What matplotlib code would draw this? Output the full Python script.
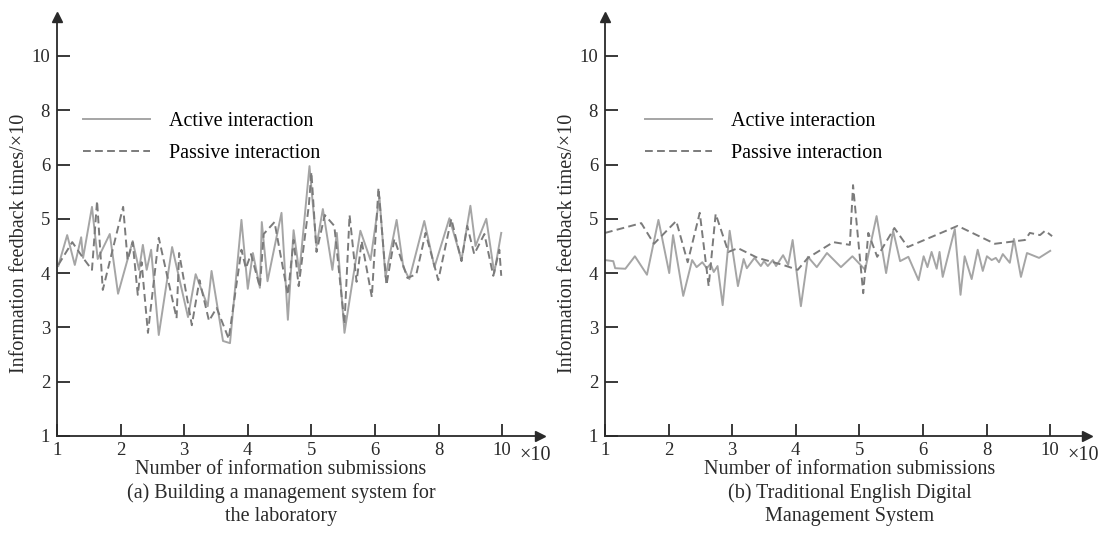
import numpy as np
import matplotlib
matplotlib.use('Agg')
import matplotlib.pyplot as plt

# ---------------------------------------------------------------
# data (x: submissions /10, y: feedback times /10)
tick_vals = [1, 2, 3, 4, 5, 6, 8, 10]
tick_labels = ['1', '2', '3', '4', '5', '6', '8', '10']

# (a) laboratory management system
a_active_x = [1.02, 1.16, 1.28, 1.38, 1.41, 1.55, 1.64, 1.83, 1.96, 2.19, 2.29, 2.35, 2.41, 2.48,
              2.60, 2.81, 3.06, 3.18, 3.37, 3.43, 3.61, 3.72, 3.90, 4.00, 4.08, 4.19, 4.22, 4.31,
              4.53, 4.63, 4.72, 4.81, 4.97, 5.08, 5.18, 5.33, 5.40, 5.52, 5.77, 5.93, 6.14, 6.33,
              6.68, 6.89, 7.08, 7.55, 7.87, 8.34, 8.72, 9.00, 9.16, 9.50, 9.75, 9.97]
a_active_y = [4.13, 4.70, 4.15, 4.66, 4.28, 5.22, 4.26, 4.72, 3.62, 4.59, 4.06, 4.52, 4.06, 4.43,
              2.86, 4.48, 3.19, 3.98, 3.39, 4.04, 2.75, 2.71, 4.98, 3.71, 4.37, 3.73, 4.94, 3.85,
              5.11, 3.14, 4.79, 4.00, 5.97, 4.50, 5.18, 4.06, 4.74, 2.90, 4.78, 4.24, 5.40, 3.93,
              4.98, 4.11, 3.89, 4.96, 4.11, 5.01, 4.24, 5.24, 4.50, 5.00, 4.00, 4.74]
a_passive_x = [1.02, 1.24, 1.41, 1.55, 1.63, 1.72, 2.04, 2.11, 2.19, 2.27, 2.33, 2.43, 2.60, 2.88,
               2.92, 3.12, 3.24, 3.39, 3.51, 3.70, 3.90, 3.97, 4.05, 4.19, 4.25, 4.42, 4.63, 4.72,
               4.80, 4.96, 5.00, 5.08, 5.21, 5.36, 5.52, 5.60, 5.71, 5.79, 5.95, 6.11, 6.36, 6.61,
               7.02, 7.30, 7.59, 7.99, 8.40, 8.72, 8.90, 9.12, 9.44, 9.72, 9.91, 9.97]
a_passive_y = [4.15, 4.57, 4.28, 4.06, 5.33, 3.69, 5.22, 4.24, 4.57, 3.60, 4.20, 2.90, 4.65, 3.17,
               4.37, 3.04, 3.87, 3.12, 3.36, 2.79, 4.43, 4.09, 4.35, 3.74, 4.72, 4.94, 3.60, 4.61,
               3.76, 5.25, 5.86, 4.39, 5.07, 4.87, 3.06, 5.07, 3.84, 4.59, 3.56, 5.57, 3.78, 4.63,
               3.91, 3.98, 4.74, 3.87, 5.00, 4.22, 4.87, 4.35, 4.72, 3.95, 4.43, 3.95]

# (b) traditional English digital management system
b_active_x = [1.00, 1.13, 1.16, 1.32, 1.47, 1.66, 1.84, 2.01, 2.07, 2.23, 2.37, 2.44, 2.53, 2.60,
              2.66, 2.71, 2.77, 2.85, 2.96, 3.09, 3.18, 3.23, 3.35, 3.45, 3.50, 3.56, 3.64, 3.69,
              3.80, 3.88, 3.95, 4.08, 4.19, 4.33, 4.49, 4.71, 4.89, 5.09, 5.27, 5.42, 5.53, 5.64,
              5.77, 5.93, 6.02, 6.14, 6.27, 6.43, 6.52, 6.62, 7.00, 7.18, 7.31, 7.53, 7.72, 7.88,
              8.01, 8.16, 8.29, 8.39, 8.51, 8.73, 8.86, 9.08, 9.27, 9.65, 10.00]
b_active_y = [4.24, 4.22, 4.09, 4.08, 4.31, 3.97, 4.98, 4.00, 4.70, 3.58, 4.24, 4.11, 4.20, 4.09,
              4.17, 4.02, 4.13, 3.41, 4.78, 3.76, 4.26, 4.09, 4.28, 4.13, 4.22, 4.13, 4.24, 4.13,
              4.33, 4.15, 4.61, 3.39, 4.30, 4.11, 4.37, 4.11, 4.31, 4.06, 5.05, 4.00, 4.78, 4.22,
              4.30, 3.87, 4.31, 4.11, 4.39, 4.08, 4.39, 3.93, 4.81, 3.60, 4.31, 3.89, 4.43, 4.04,
              4.31, 4.24, 4.28, 4.20, 4.35, 4.19, 4.63, 3.93, 4.37, 4.28, 4.41]
b_passive_x = [1.00, 1.57, 1.77, 2.12, 2.30, 2.49, 2.63, 2.74, 2.94, 3.09, 3.40, 3.80, 4.03, 4.19,
               4.59, 4.85, 4.90, 5.06, 5.14, 5.28, 5.55, 5.76, 7.09, 8.26, 9.21, 9.36, 9.68, 9.84,
               10.06]
b_passive_y = [4.74, 4.92, 4.54, 4.96, 4.20, 5.11, 3.76, 5.09, 4.39, 4.46, 4.28, 4.15, 4.06, 4.28,
               4.57, 4.52, 5.62, 3.63, 4.74, 4.30, 4.83, 4.48, 4.87, 4.54, 4.61, 4.74, 4.70, 4.78,
               4.68]

panels = [
    (a_active_x, a_active_y, a_passive_x, a_passive_y,
     ['(a) Building a management system for', 'the laboratory']),
    (b_active_x, b_active_y, b_passive_x, b_passive_y,
     ['(b) Traditional English Digital', 'Management System']),
]

# ---------------------------------------------------------------
# the axes are evenly spaced per tick: 1..6, then 8, 10
scale_vals = [0, 1, 2, 3, 4, 5, 6, 8, 10, 14]
scale_pos = [-1, 0, 1, 2, 3, 4, 5, 6, 7, 9]


def fwd(v):
    return np.interp(v, scale_vals, scale_pos)


def inv(p):
    return np.interp(p, scale_pos, scale_vals)


matplotlib.rc('font', family='Liberation Serif', size=14.5)
ink = '#2a2a2a'

W, H = 1109, 534
fig = plt.figure(figsize=(W / 100, H / 100), dpi=100)

# axes boxes in pixels: (x origin, width)
boxes = [(57, 483), (605, 482)]
for i, (ax0, aw) in enumerate(boxes):
    ax = fig.add_axes([ax0 / W, (H - 436) / H, aw / W, 419 / H])
    act_x, act_y, pas_x, pas_y, caption = panels[i]

    ax.plot(act_x, act_y, color='#a5a5a5', lw=1.4, label='Active interaction')
    ax.plot(pas_x, pas_y, color='#7b7b7b', lw=1.4, linestyle=(0, (4, 2.2)),
            label='Passive interaction')

    ax.set_xscale('function', functions=(fwd, inv))
    ax.set_yscale('function', functions=(fwd, inv))
    ax.set_xlim(1, inv(aw / 63.6))
    ax.set_ylim(1, inv(419 / 54.3))
    ax.set_xticks(tick_vals)
    ax.set_xticklabels(tick_labels)
    ax.set_yticks(tick_vals)
    ax.set_yticklabels(tick_labels)
    ax.minorticks_off()
    ax.tick_params(direction='in', length=9, width=1.3, color=ink, labelcolor=ink,
                   labelsize=13.5, pad=5)
    ax.tick_params(axis='x', pad=4.5)

    for s in ['top', 'right']:
        ax.spines[s].set_visible(False)
    for s in ['left', 'bottom']:
        ax.spines[s].set_color(ink)
        ax.spines[s].set_linewidth(1.3)

    # arrow heads on the axes
    ax.plot(1, 0, '>', color=ink, ms=7, transform=ax.transAxes, clip_on=False)
    ax.plot(0, 1, '^', color=ink, ms=7, transform=ax.transAxes, clip_on=False)

    leg_x = ax0 + 26 if i == 0 else ax0 + 40
    ax.legend(loc='upper left', bbox_to_anchor=(leg_x / W, 1 - 112 / H),
              bbox_transform=fig.transFigure, frameon=False, borderpad=0,
              borderaxespad=0, handlelength=3.35, handletextpad=0.9, labelspacing=0.62)

    cx = 281 if i == 0 else 850
    fig.text(cx / W, 1 - 469 / H, 'Number of information submissions', ha='center', va='center',
             color=ink)
    fig.text(cx / W, 1 - 493 / H, caption[0], ha='center', va='center', color=ink)
    fig.text(cx / W, 1 - 517 / H, caption[1], ha='center', va='center', color=ink)

    fig.text((ax0 + 462) / W, 1 - 456 / H, '×10', ha='left', va='center', color=ink)
    fig.text((ax0 - 37) / W, 1 - 243 / H, 'Information feedback times/×10', rotation=90,
             ha='center', va='center', color=ink)

plt.savefig('out.png', dpi=100)
